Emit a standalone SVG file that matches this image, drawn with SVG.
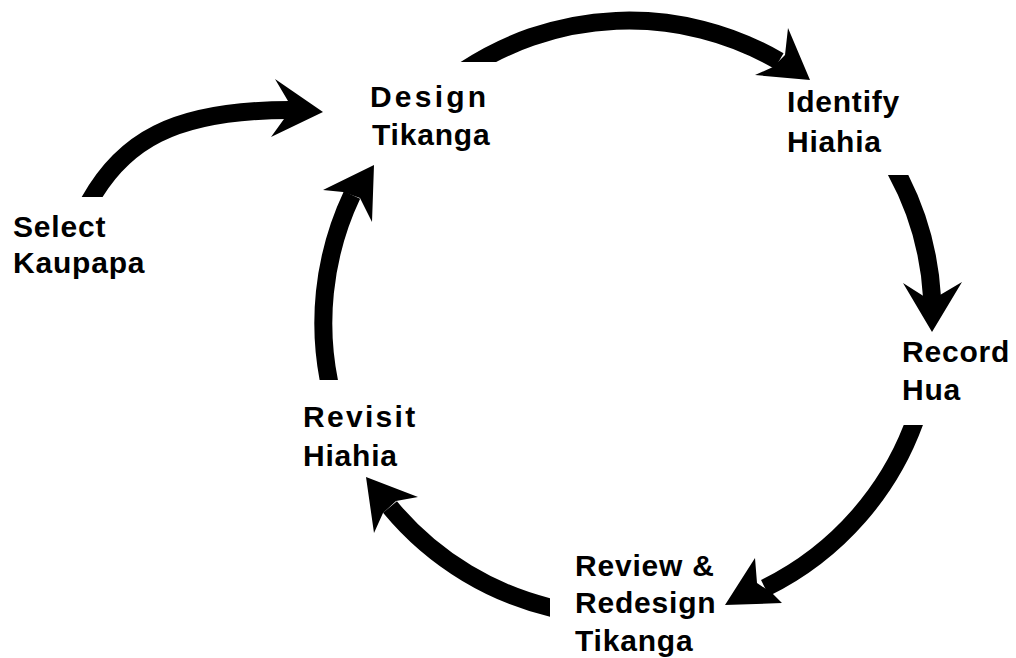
<svg xmlns="http://www.w3.org/2000/svg" width="1016" height="658" viewBox="0 0 1016 658">
<style>
.lbl{font-family:"Liberation Sans",Arial,sans-serif;font-weight:bold;font-size:30px;fill:#000;letter-spacing:0.8px}
.sp3{letter-spacing:3.2px}
.sp2{letter-spacing:2.3px}
.shaft{fill:none;stroke:#000;stroke-width:18;stroke-linecap:butt}
.head{fill:#000;stroke:none}
</style>
<defs>
<clipPath id="c1"><rect x="0" y="0" width="1016" height="197"/></clipPath>
<clipPath id="c2"><rect x="0" y="0" width="1016" height="62"/><rect x="600" y="0" width="416" height="658"/></clipPath>
<clipPath id="c3"><rect x="0" y="175" width="1016" height="483"/></clipPath>
<clipPath id="c4"><rect x="0" y="425" width="1016" height="233"/></clipPath>
<clipPath id="c5"><rect x="0" y="0" width="550" height="658"/></clipPath>
<clipPath id="c6"><rect x="0" y="0" width="1016" height="380"/></clipPath>
</defs>
<rect width="1016" height="658" fill="#fff"/>
<g id="connectors">
<g id="a1">
<path class="shaft" clip-path="url(#c1)" d="M85,210 C120,140 175,110 290,110"/>
<polygon class="head" points="323,112 275,79 288,101 284,119 271,137"/>
</g>
<g id="a2">
<path class="shaft" clip-path="url(#c2)" d="M457.5,75 A298,298 0 0 1 779,61"/>
<polygon class="head" points="810,80 788,28 785,55 773,67 755,75"/>
</g>
<g id="a3">
<path class="shaft" clip-path="url(#c3)" d="M891.5,163 A300,300 0 0 1 932,297"/>
<polygon class="head" points="932,332 962,282 940,295 925,297 903,283"/>
</g>
<g id="a4">
<path class="shaft" clip-path="url(#c4)" d="M917.6,413 A300,300 0 0 1 765,588"/>
<polygon class="head" points="725,605 782,603 772,593 757,583 755,558"/>
</g>
<g id="a5">
<path class="shaft" clip-path="url(#c5)" d="M561.6,610 A300,300 0 0 1 390,507"/>
<polygon class="head" points="366,477 418,497 396,501 383,513 374,533"/>
</g>
<g id="a6">
<path class="shaft" clip-path="url(#c6)" d="M331.6,393 A300,300 0 0 1 352,195"/>
<polygon class="head" points="374,165 372,222 360,198 343,192 323,190"/>
</g>
</g>
<g id="select-kaupapa"><text class="lbl" x="13" y="237">Select</text><text class="lbl" x="13" y="273">Kaupapa</text></g>
<g id="design-tikanga"><text class="lbl sp3" x="370" y="107">Design</text><text class="lbl" x="372" y="145">Tikanga</text></g>
<g id="identify-hiahia"><text class="lbl" x="787" y="112">Identify</text><text class="lbl" x="787" y="152">Hiahia</text></g>
<g id="record-hua"><text class="lbl" x="902" y="362">Record</text><text class="lbl" x="902" y="400">Hua</text></g>
<g id="revisit-hiahia"><text class="lbl sp2" x="303" y="427">Revisit</text><text class="lbl" x="303" y="466">Hiahia</text></g>
<g id="review-redesign"><text class="lbl" x="575" y="576">Review &amp;</text><text class="lbl" x="575" y="613">Redesign</text><text class="lbl" x="575" y="651">Tikanga</text></g>
</svg>
